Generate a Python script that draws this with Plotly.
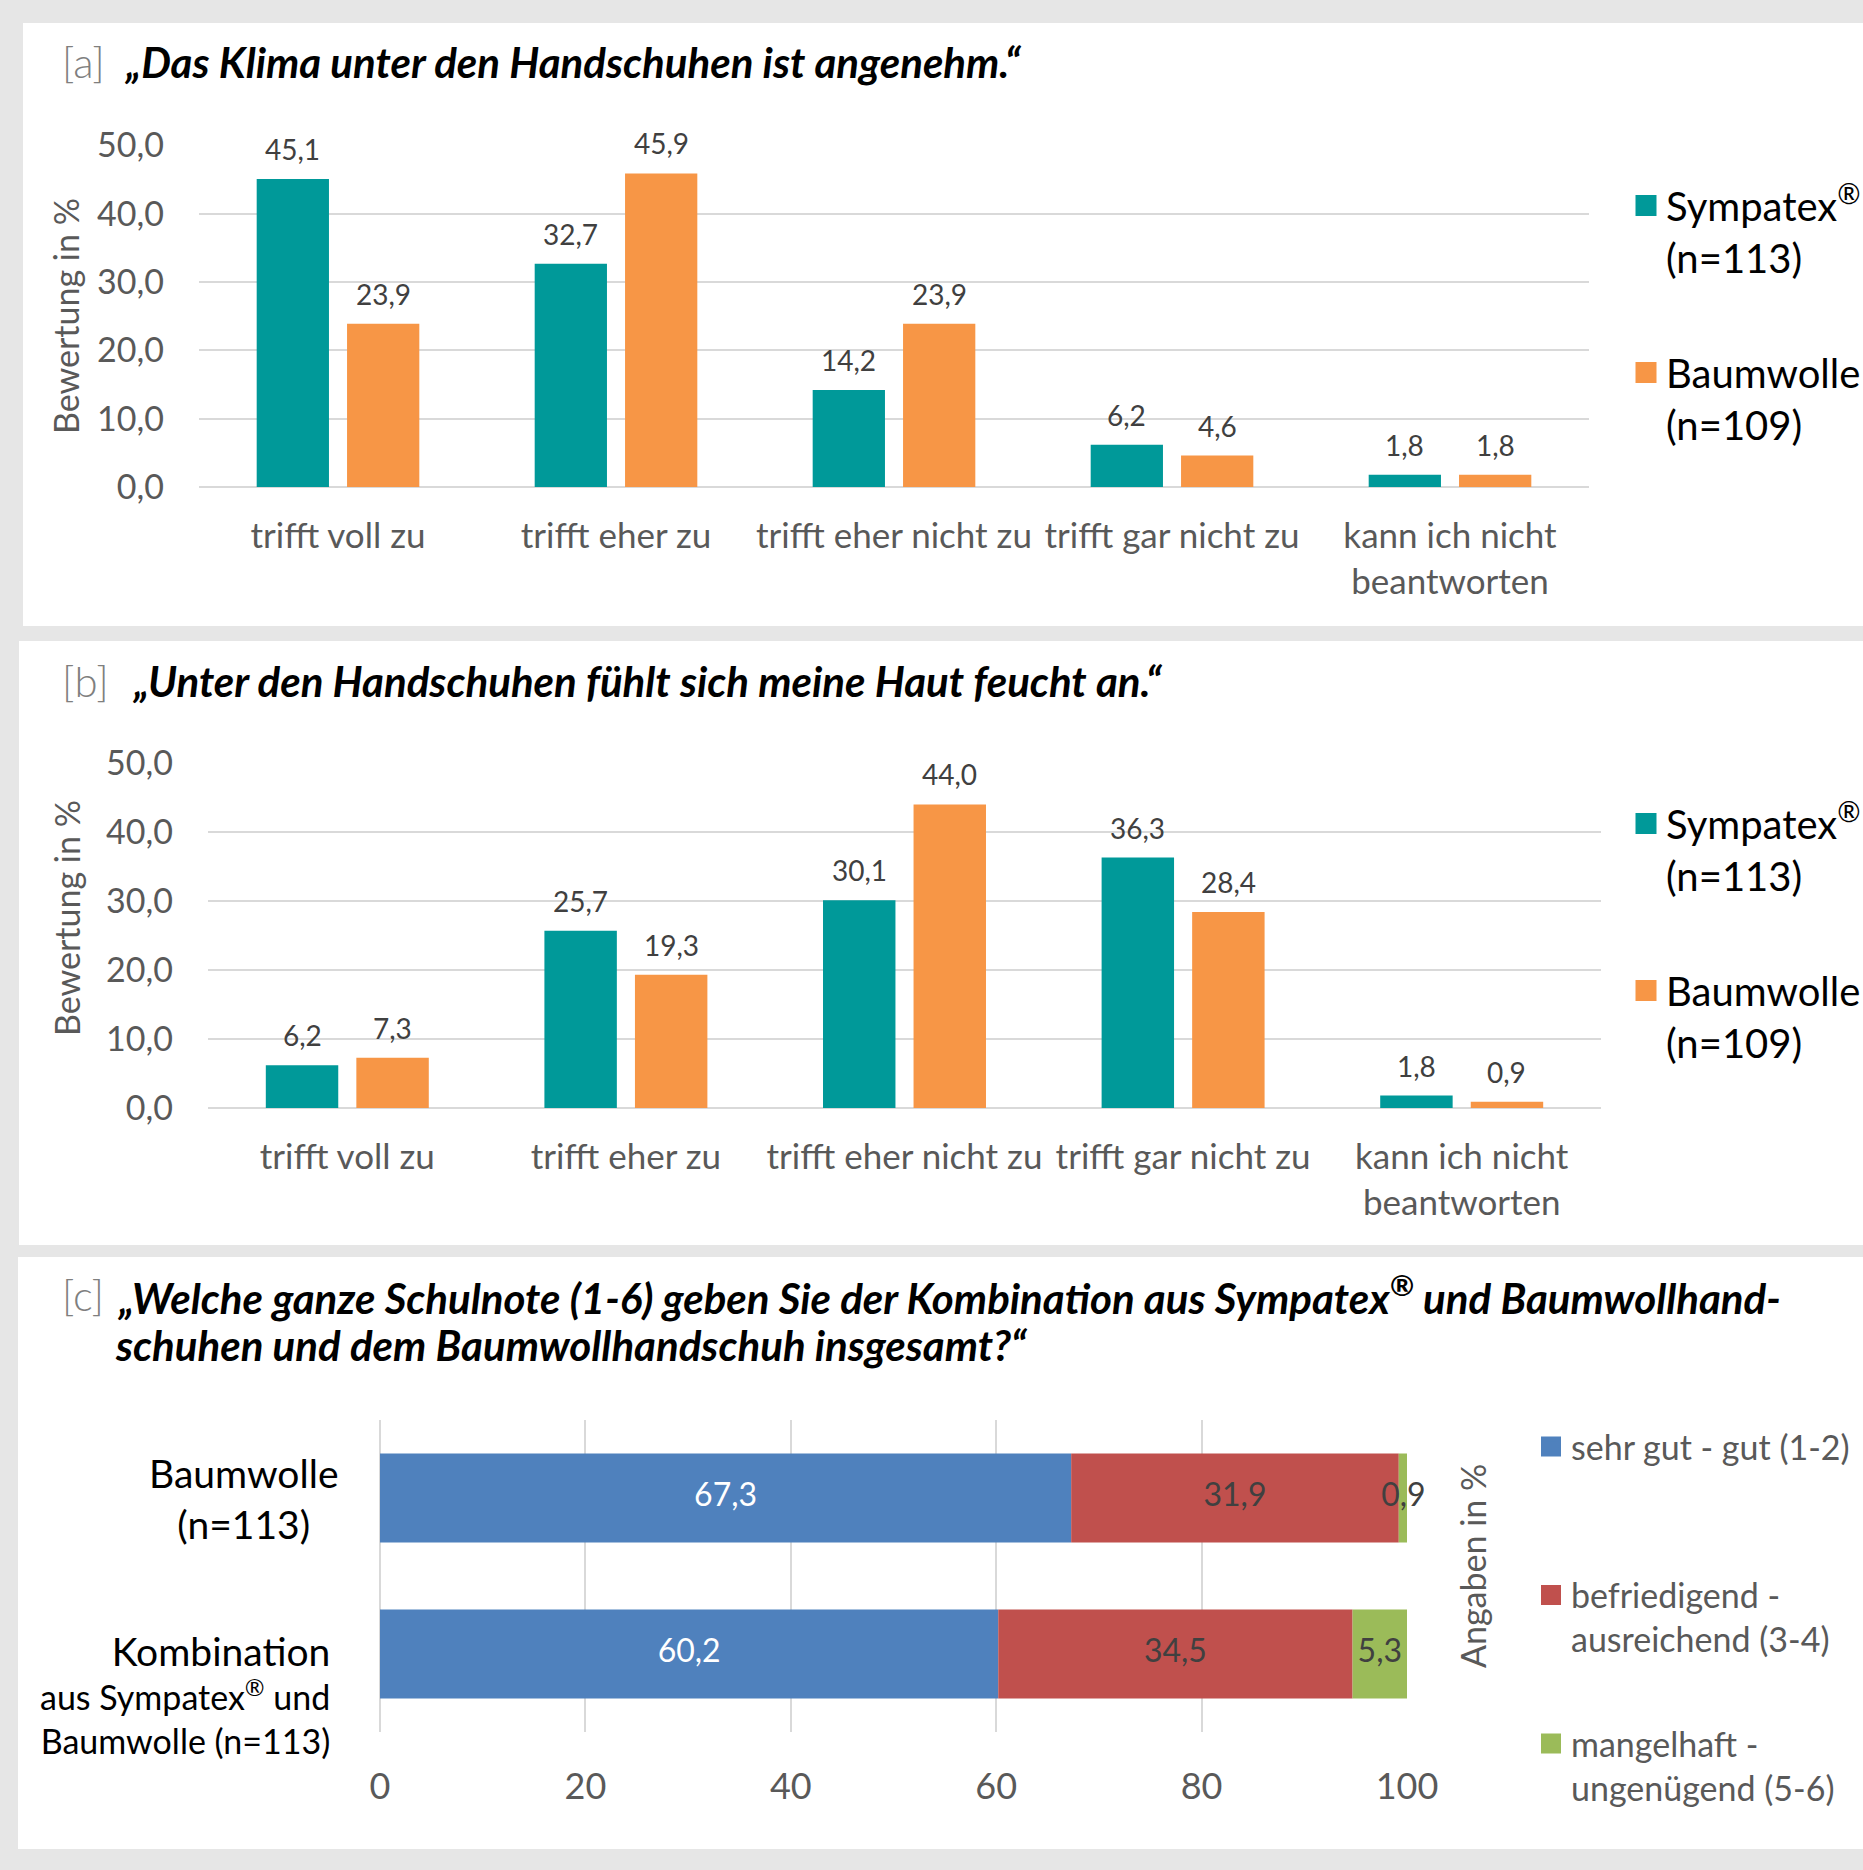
import plotly.graph_objects as go
import numpy as np

W, H = 1863, 1870

# ---------------- data ----------------
categories = ["trifft voll zu", "trifft eher zu", "trifft eher nicht zu",
              "trifft gar nicht zu", "kann ich nicht<br>beantworten"]
sympatex_a = [45.1, 32.7, 14.2, 6.2, 1.8]
baumwolle_a = [23.9, 45.9, 23.9, 4.6, 1.8]
sympatex_b = [6.2, 25.7, 30.1, 36.3, 1.8]
baumwolle_b = [7.3, 19.3, 44.0, 28.4, 0.9]
series_names = ["Sympatex<sup>®</sup><br>(n=113)", "Baumwolle<br>(n=109)"]
y_ticks_ab = [0, 10, 20, 30, 40, 50]

groups_c = ["Baumwolle (n=113)", "Kombination aus Sympatex® und Baumwolle (n=113)"]
grade_names = ["sehr gut - gut (1-2)<br>\u00a0", "befriedigend -<br>ausreichend (3-4)",
               "mangelhaft -<br>ungenügend (5-6)"]
grade_values = [[67.3, 60.2], [31.9, 34.5], [0.9, 5.3]]
x_ticks_c = [0, 20, 40, 60, 80, 100]

title_a = "„Das Klima unter den Handschuhen ist angenehm.“"
title_b = "„Unter den Handschuhen fühlt sich meine Haut feucht an.“"
title_c1 = "„Welche ganze Schulnote (1-6) geben Sie der Kombination aus Sympatex<sup>®</sup> und Baumwollhand-"
title_c2 = "schuhen und dem Baumwollhandschuh insgesamt?“"

# ---------------- style ----------------
FONT = "Lato"
TEAL, ORANGE = "#009999", "#F79646"
BLUE, RED, GREEN = "#4F81BD", "#C0504D", "#9BBB59"
GRID = "#D9D9D9"
PLOTBG = "#F2F2F2"
TICK = "#595959"
LABEL = "#404040"
BARGAP, BARGROUPGAP = 0.35, 0.2


def px(xp):
    return xp / W


def py(yp):
    return 1 - yp / H


DOM_A = (199, 1589)
DOM_B = (208, 1601)

fig = go.Figure()
annotations = []

# panel a / b bars
for vals_s, vals_b, xa, ya, leg, dom in [(sympatex_a, baumwolle_a, "x", "y", "legend", DOM_A),
                                          (sympatex_b, baumwolle_b, "x2", "y2", "legend2", DOM_B)]:
    cat_w = (dom[1] - dom[0]) / len(categories)
    off = cat_w * (1 - BARGAP) / 4
    for k, (vals, col, name) in enumerate([(vals_s, TEAL, series_names[0]),
                                            (vals_b, ORANGE, series_names[1])]):
        fig.add_trace(go.Bar(
            x=categories, y=vals, marker_color=col, marker_line_width=0,
            xaxis=xa, yaxis=ya, showlegend=False, hoverinfo="skip"))
        # value labels above the bars
        for c, v in zip(categories, vals):
            annotations.append(dict(
                text=f"{v:.1f}".replace(".", ","), xref=xa, yref=ya, x=c, y=v,
                xshift=(-off if k == 0 else off), yshift=30, xanchor="center", yanchor="middle",
                showarrow=False, font=dict(family=FONT, size=28, color=LABEL)))
        # legend entry with a larger square symbol
        fig.add_trace(go.Scatter(
            x=[None], y=[None], mode="markers", name=name,
            marker=dict(symbol="square", size=16, color=col, line=dict(width=5, color=col)),
            xaxis=xa, yaxis=ya, legend=leg, legendgroup=leg + name, showlegend=True))

# panel c stacked horizontal bars (bases from cumulative sums)
vals_c = np.array(grade_values)
bases_c = np.vstack([np.zeros(vals_c.shape[1]), np.cumsum(vals_c, axis=0)[:-1]])
text_colors = ["white", LABEL, LABEL]
for i, (name, col) in enumerate(zip(grade_names, [BLUE, RED, GREEN])):
    fig.add_trace(go.Bar(
        y=groups_c, x=vals_c[i], base=bases_c[i], orientation="h",
        marker_color=col, marker_line_width=0, width=0.57, offset=-0.285,
        xaxis="x3", yaxis="y3", showlegend=False, hoverinfo="skip"))
    fig.add_trace(go.Scatter(
        y=groups_c, x=bases_c[i] + vals_c[i] / 2, customdata=vals_c[i], mode="text",
        texttemplate="%{customdata:.1f}", textposition="middle center",
        textfont=dict(family=FONT, size=32, color=text_colors[i]),
        xaxis="x3", yaxis="y3", showlegend=False, cliponaxis=False, hoverinfo="skip"))
    fig.add_trace(go.Scatter(
        x=[None], y=[None], mode="markers", name=name,
        marker=dict(symbol="square", size=15, color=col, line=dict(width=5, color=col)),
        xaxis="x3", yaxis="y3", legend="legend3", legendgroup="c" + str(i), showlegend=True))

# ---------------- layout ----------------
shapes = []
for x0, y0, y1 in [(23, 23, 626), (19, 641, 1245), (18, 1257, 1849)]:
    shapes.append(dict(type="rect", xref="paper", yref="paper",
                       x0=px(x0), x1=1, y0=py(y1), y1=py(y0),
                       fillcolor="white", line_width=0, layer="below"))

yax_common = dict(range=[0, 50], tickvals=y_ticks_ab, tickformat=".1f", automargin=False,
                  showgrid=True, gridcolor=GRID, gridwidth=2,
                  zeroline=True, zerolinecolor=GRID, zerolinewidth=2,
                  showline=False, ticks="", ticklabelstandoff=34,
                  tickfont=dict(family=FONT, size=34, color=TICK), fixedrange=True)
xax_common = dict(type="category", showgrid=False, showline=False, ticks="", automargin=False,
                  ticklabelstandoff=25, tickfont=dict(family=FONT, size=35, color=TICK))

legend_ab = dict(xanchor="left", yanchor="top", bgcolor="rgba(0,0,0,0)",
                 font=dict(family=FONT, size=40, color="black"),
                 traceorder="grouped", tracegroupgap=60, valign="top", itemwidth=30)

TITLE_FONT = dict(family=FONT, size=42, color="black", weight="bold", style="italic")
LAB_FONT = dict(family=FONT, size=42, color="#7F7F7F", weight=300)
for lab, tx, xl, xt, yc in [("[a]", title_a, 60, 123, 62), ("[b]", title_b, 60, 131, 681)]:
    annotations.append(dict(text=lab, xref="paper", yref="paper", x=px(xl), y=py(yc),
                            xanchor="left", yanchor="middle", showarrow=False, font=LAB_FONT))
    annotations.append(dict(text=tx, xref="paper", yref="paper", x=px(xt), y=py(yc),
                            xanchor="left", yanchor="middle", showarrow=False, font=TITLE_FONT))
annotations.append(dict(text="[c]", xref="paper", yref="paper", x=px(60), y=py(1295),
                        xanchor="left", yanchor="middle", showarrow=False, font=LAB_FONT))
for tx, xl, yc in [(title_c1, 116, 1295), (title_c2, 113, 1345)]:
    annotations.append(dict(text=tx, xref="paper", yref="paper", x=px(xl), y=py(yc),
                            xanchor="left", yanchor="middle", showarrow=False, font=TITLE_FONT))
# axis titles
for tx, xc, yc in [("Bewertung in %", 66, 316), ("Bewertung in %", 66, 918), ("Angaben in %", 1472, 1566)]:
    annotations.append(dict(text=tx, xref="paper", yref="paper", x=px(xc), y=py(yc),
                            xanchor="center", yanchor="middle", textangle=-90, showarrow=False,
                            font=dict(family=FONT, size=34, color=TICK)))
# category labels of panel c
annotations.append(dict(text="Baumwolle<br>(n=113)", xref="paper", yref="y3", x=px(340), y=groups_c[0],
                        xanchor="right", yanchor="middle", align="center", showarrow=False,
                        font=dict(family=FONT, size=39, color="black")))
annotations.append(dict(text="<span style='font-size:39px'>Kombination</span><br>aus Sympatex<sup>®</sup> und<br>Baumwolle (n=113)",
                        xref="paper", yref="y3", x=px(332), y=groups_c[1], yshift=-40,
                        xanchor="right", yanchor="middle", align="right", showarrow=False,
                        font=dict(family=FONT, size=34, color="black")))

fig.update_layout(
    width=W, height=H, autosize=False,
    margin=dict(l=0, r=0, t=0, b=0, pad=0, autoexpand=False),
    paper_bgcolor="#E6E6E6", plot_bgcolor=PLOTBG,
    separators=",.",
    font=dict(family=FONT),
    barmode="group", bargap=BARGAP, bargroupgap=BARGROUPGAP,
    shapes=shapes, annotations=annotations,
    xaxis=dict(domain=[px(DOM_A[0]), px(DOM_A[1])], anchor="y", **xax_common),
    yaxis=dict(domain=[py(487), py(145.5)], anchor="x", **yax_common),
    xaxis2=dict(domain=[px(DOM_B[0]), px(DOM_B[1])], anchor="y2", **xax_common),
    yaxis2=dict(domain=[py(1108), py(763)], anchor="x2", **yax_common),
    xaxis3=dict(domain=[px(380), px(1407)], anchor="y3", range=[0, 100], tickvals=x_ticks_c,
                automargin=False,
                showgrid=True, gridcolor=GRID, gridwidth=2, zeroline=True, zerolinecolor=GRID,
                zerolinewidth=2, showline=False, ticks="", ticklabelstandoff=30,
                tickfont=dict(family=FONT, size=36, color=TICK)),
    yaxis3=dict(domain=[py(1732), py(1420)], anchor="x3", type="category", automargin=False,
                categoryorder="array", categoryarray=groups_c, autorange="reversed",
                showticklabels=False, showgrid=False, zeroline=False, ticks=""),
    legend=dict(x=px(1626), y=py(173), **legend_ab),
    legend2=dict(x=px(1626), y=py(791), **legend_ab),
    legend3=dict(x=px(1531), y=py(1418), xanchor="left", yanchor="top", bgcolor="rgba(0,0,0,0)",
                 font=dict(family=FONT, size=34, color=TICK),
                 traceorder="grouped", tracegroupgap=57, valign="top", itemwidth=30),
)

fig.write_html("out.html")
